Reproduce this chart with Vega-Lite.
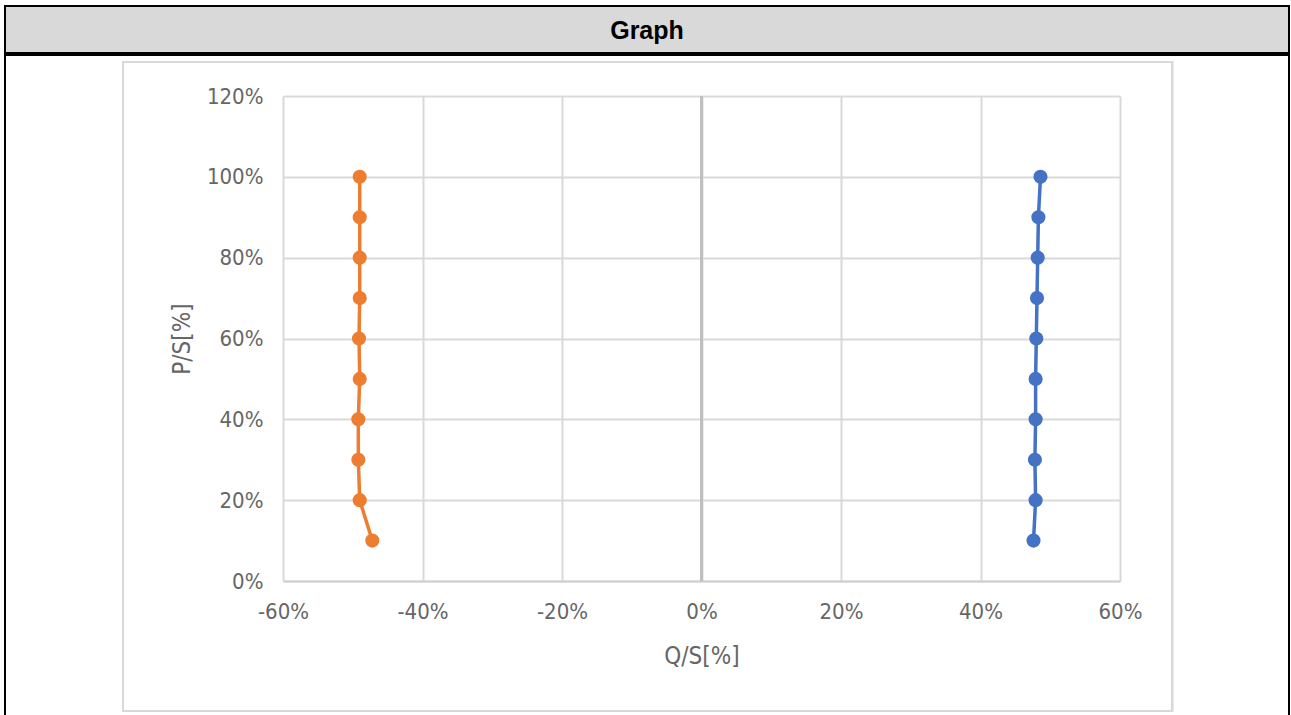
{
  "$schema": "https://vega.github.io/schema/vega-lite/v6.json",
  "padding": {"left": 4, "top": 5, "right": 0, "bottom": 0},
  "background": "white",
  "spacing": 0,
  "config": {
    "font": "DejaVu Sans Condensed, Liberation Sans Narrow, sans-serif"
  },
  "datasets": {
    "pq": [
      {"series": "Series1", "P": 0.1, "Q": 0.476},
      {"series": "Series1", "P": 0.2, "Q": 0.479},
      {"series": "Series1", "P": 0.3, "Q": 0.478},
      {"series": "Series1", "P": 0.4, "Q": 0.479},
      {"series": "Series1", "P": 0.5, "Q": 0.479},
      {"series": "Series1", "P": 0.6, "Q": 0.480},
      {"series": "Series1", "P": 0.7, "Q": 0.481},
      {"series": "Series1", "P": 0.8, "Q": 0.482},
      {"series": "Series1", "P": 0.9, "Q": 0.483},
      {"series": "Series1", "P": 1.0, "Q": 0.486},
      {"series": "Series2", "P": 0.1, "Q": -0.472},
      {"series": "Series2", "P": 0.2, "Q": -0.490},
      {"series": "Series2", "P": 0.3, "Q": -0.492},
      {"series": "Series2", "P": 0.4, "Q": -0.492},
      {"series": "Series2", "P": 0.5, "Q": -0.490},
      {"series": "Series2", "P": 0.6, "Q": -0.491},
      {"series": "Series2", "P": 0.7, "Q": -0.490},
      {"series": "Series2", "P": 0.8, "Q": -0.490},
      {"series": "Series2", "P": 0.9, "Q": -0.490},
      {"series": "Series2", "P": 1.0, "Q": -0.490}
    ]
  },
  "vconcat": [
    {
      "width": 1284,
      "height": 47,
      "view": {"fill": "#d9d9d9", "stroke": "black", "strokeWidth": 2},
      "data": {"values": [{"label": "Graph"}]},
      "mark": {"type": "text", "font": "Liberation Sans, Arial, sans-serif", "fontWeight": "bold", "fontSize": 25, "color": "black", "baseline": "middle", "dy": 1},
      "encoding": {"text": {"field": "label"}}
    },
    {
      "width": 1284,
      "height": 670,
      "view": {"fill": "white", "stroke": "black", "strokeWidth": 2},
      "data": {"name": "pq"},
      "layer": [
        {
          "mark": {"type": "rect", "filled": false, "stroke": "#d9d9d9", "strokeWidth": 2, "clip": false},
          "encoding": {
            "x": {"datum": -0.8294},
            "x2": {"datum": 0.6746},
            "y": {"datum": 1.2841},
            "y2": {"datum": -0.3217}
          }
        },
        {
          "mark": {"type": "rule", "color": "#bfbfbf", "strokeWidth": 2},
          "encoding": {
            "x": {"datum": 0},
            "y": {"datum": 0},
            "y2": {"datum": 1.2}
          }
        },
        {
          "mark": {"type": "line", "strokeWidth": 3.5},
          "encoding": {
            "x": {
              "field": "Q", "type": "quantitative",
              "scale": {"domain": [-0.6, 0.6], "range": [278, 1115], "nice": false, "zero": false},
              "axis": {
                "orient": "top",
                "values": [-0.6, -0.4, -0.2, 0, 0.2, 0.4, 0.6],
                "labelExpr": "(datum.value < -0.0001 ? '-' : '') + format(abs(datum.value), '.0%')",
                "labelFlush": false,
                "offset": -526,
                "title": "Q/S[%]",
                "grid": true, "gridColor": "#d9d9d9", "gridWidth": 2,
                "domain": true, "domainColor": "#d0d0d0", "domainWidth": 2,
                "ticks": false,
                "labelFontSize": 22, "labelColor": "#666666", "labelPadding": -20, "labelBaseline": "top",
                "titleFontSize": 24, "titleFontWeight": "normal", "titleColor": "#666666",
                "titleBaseline": "middle", "titleY": 75
              }
            },
            "y": {
              "field": "P", "type": "quantitative",
              "scale": {"domain": [0, 1.2], "range": [526, 41], "nice": false, "zero": false},
              "axis": {
                "values": [0, 0.2, 0.4, 0.6, 0.8, 1.0, 1.2],
                "format": ".0%",
                "offset": -278,
                "title": "P/S[%]",
                "grid": true, "gridColor": "#d9d9d9", "gridWidth": 2,
                "domain": false,
                "ticks": false,
                "labelFontSize": 22, "labelColor": "#666666", "labelPadding": 20,
                "titleFontSize": 24, "titleFontWeight": "normal", "titleColor": "#666666", "titlePadding": 12
              }
            },
            "color": {
              "field": "series", "type": "nominal",
              "scale": {"domain": ["Series1", "Series2"], "range": ["#4472c4", "#ed7d31"]},
              "legend": null
            },
            "order": {"field": "P", "type": "quantitative"}
          }
        },
        {
          "mark": {"type": "point", "filled": true, "opacity": 1, "size": 200},
          "encoding": {
            "x": {"field": "Q", "type": "quantitative"},
            "y": {"field": "P", "type": "quantitative"},
            "color": {"field": "series", "type": "nominal", "legend": null}
          }
        }
      ]
    }
  ]
}
